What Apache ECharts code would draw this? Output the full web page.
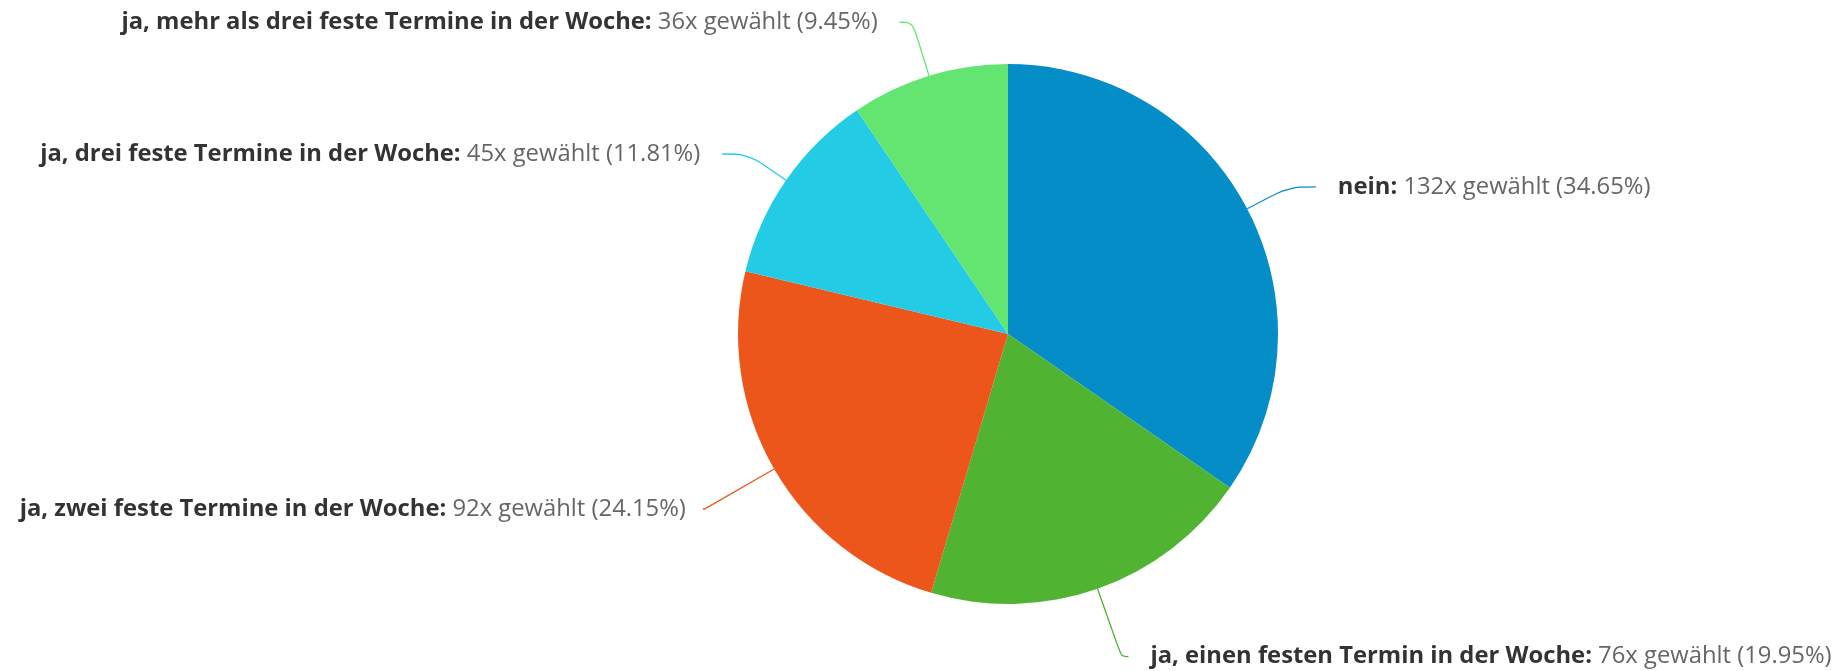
<!DOCTYPE html>
<html>
<head>
<meta charset="utf-8">
<script src="https://cdn.jsdelivr.net/npm/echarts@6/dist/echarts.min.js"></script>
<style>
html,body{margin:0;padding:0;background:#fff;}
#chart{width:1845px;height:671px;}
</style>
</head>
<body>
<div id="chart"></div>
<script>
const categories = [
  'nein',
  'ja, einen festen Termin in der Woche',
  'ja, zwei feste Termine in der Woche',
  'ja, drei feste Termine in der Woche',
  'ja, mehr als drei feste Termine in der Woche'
];
const counts = [132, 76, 92, 45, 36];
const colors = ['#058DC7', '#50B432', '#ED561B', '#24CBE5', '#64E572'];

// label connector lengths and gaps (style only)
const lineLen1 = [47, 72, 80, 46, 56];
const lineLen2 = [27, 7, 2, 26, 13];
const labelGap = [22, 22, 17, 22, 22];

const total = counts.reduce((a, b) => a + b, 0);
const data = categories.map((name, i) => ({
  name: name,
  value: counts[i],
  label: { distanceToLabelLine: labelGap[i] },
  labelLine: { length: lineLen1[i], length2: lineLen2[i] }
}));

const chart = echarts.init(document.getElementById('chart'), null, { renderer: 'canvas' });
chart.setOption({
  animation: false,
  color: colors,
  series: [{
    type: 'pie',
    center: ['1008px', '334px'],
    radius: [0, 270],
    startAngle: 90,
    clockwise: true,
    avoidLabelOverlap: true,
    data: data,
    itemStyle: { borderWidth: 0 },
    label: {
      show: true,
      position: 'outside',
      bleedMargin: 1,
      formatter: function (p) {
        const pct = (p.value / total * 100).toFixed(2);
        return '{n|' + p.name + ':}{v|\u00a0' + p.value + 'x gewählt (' + pct + '%)}';
      },
      rich: {
        n: { fontFamily: 'Open Sans', fontWeight: 'bold', fontSize: 23.8, lineHeight: 30, color: '#333333' },
        v: { fontFamily: 'Open Sans', fontWeight: 'normal', fontSize: 23.8, lineHeight: 30, color: '#666666' }
      }
    },
    labelLine: {
      show: true,
      smooth: 0.35,
      lineStyle: { width: 1.3 }
    }
  }]
});
</script>
</body>
</html>
